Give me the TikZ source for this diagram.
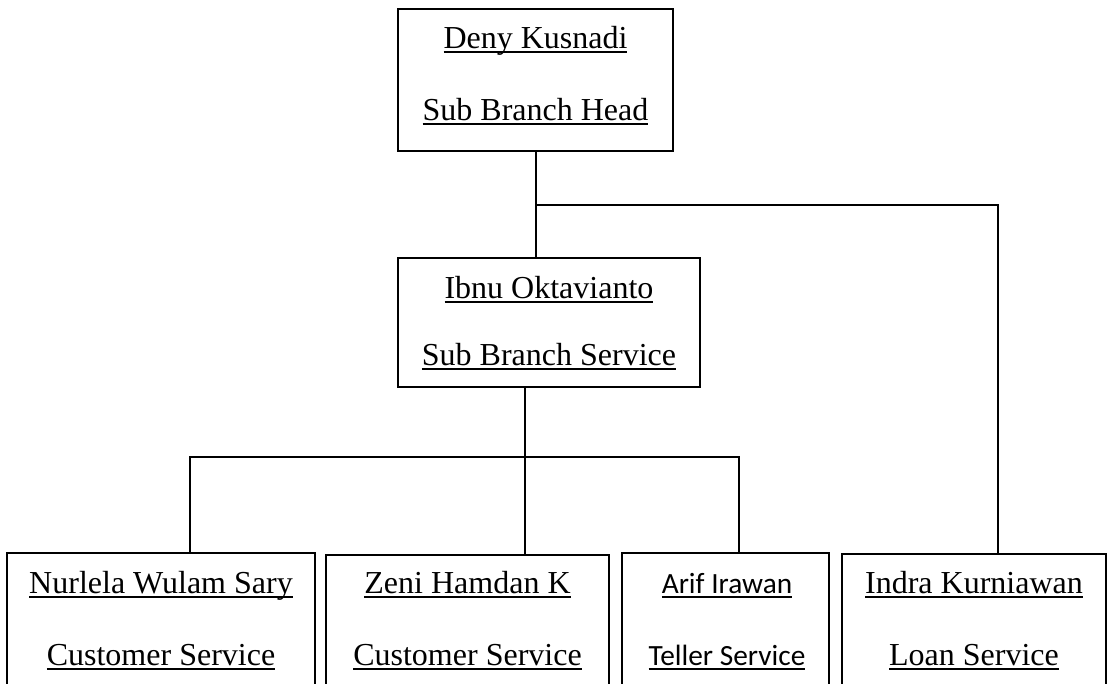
\documentclass[tikz,border=0pt]{standalone}
\usepackage{fontspec}
\setmainfont{Liberation Serif}
\newfontfamily\calibrifont{Carlito}
\usetikzlibrary{fit}

\newsavebox{\ulsave}
\newcommand{\ulwd}[1]{\sbox{\ulsave}{#1}\rlap{\rule[-1.9pt]{\wd\ulsave}{0.8pt}}\usebox{\ulsave}}

\tikzset{
	orgbox/.style={draw, line width=0.5pt, inner sep=0pt},
	link/.style={line width=0.7pt},
	nameline/.style={anchor=base, inner sep=0pt, font=\fontsize{12}{14}\selectfont},
}

\begin{document}
\begin{tikzpicture}[x=0.375pt,y=-0.375pt]
		\useasboundingbox (0,0) rectangle (1112,683);
		\clip (0,0) rectangle (1112,683);
		% boxes
		\node[orgbox, fit={(398,9) (673,151)}] (head) {};
		\node[orgbox, fit={(398,258) (700,387)}] (svc) {};
		\foreach \id/\xl/\xr/\yt in {cs1/7/315/553, cs2/326/609/555, teller/622/829/553, loan/842/1106/554}
		{
			\node[orgbox, fit={(\xl,\yt) (\xr,760)}] (\id) {};
		}
		% texts
		\node[nameline] (headname) at (535.5,48) {\ulwd{Deny Kusnadi}};
		\node[nameline] (headrole) at (535.5,120) {\ulwd{Sub Branch Head}};
		\node[nameline] (svcname) at (549,298) {\ulwd{Ibnu Oktavianto}};
		\node[nameline] (svcrole) at (549,365) {\ulwd{Sub Branch Service}};
		\foreach \id/\cx/\nm/\rl in {cs1/161/Nurlela Wulam Sary/Customer Service, cs2/467.5/Zeni Hamdan K/Customer Service, loan/974/Indra Kurniawan/Loan Service}
		{
			\node[nameline] (\id name) at (\cx,593) {\ulwd{\nm}};
			\node[nameline] (\id role) at (\cx,665) {\ulwd{\rl}};
		}
		\node[nameline, font=\fontsize{11}{13}\calibrifont] (tellername) at (727,593) {\ulwd{Arif Irawan}};
		\node[nameline, font=\fontsize{11}{13}\calibrifont] (tellerrole) at (727,665) {\ulwd{Teller Service}};
		% connectors
		\coordinate (topjoin) at (536,205);
		\coordinate (midjoin) at (525,457);
		\draw[link] (536,0 |- head.south) -- (536,0 |- svc.north);
		\draw[link] (topjoin) -| (998,0 |- loan.north);
		\draw[link] (525,0 |- svc.south) -- (525,0 |- cs2.north);
		\draw[link] (190,0 |- cs1.north) |- (midjoin) -| (739,0 |- teller.north);
	\end{tikzpicture}
\end{document}
